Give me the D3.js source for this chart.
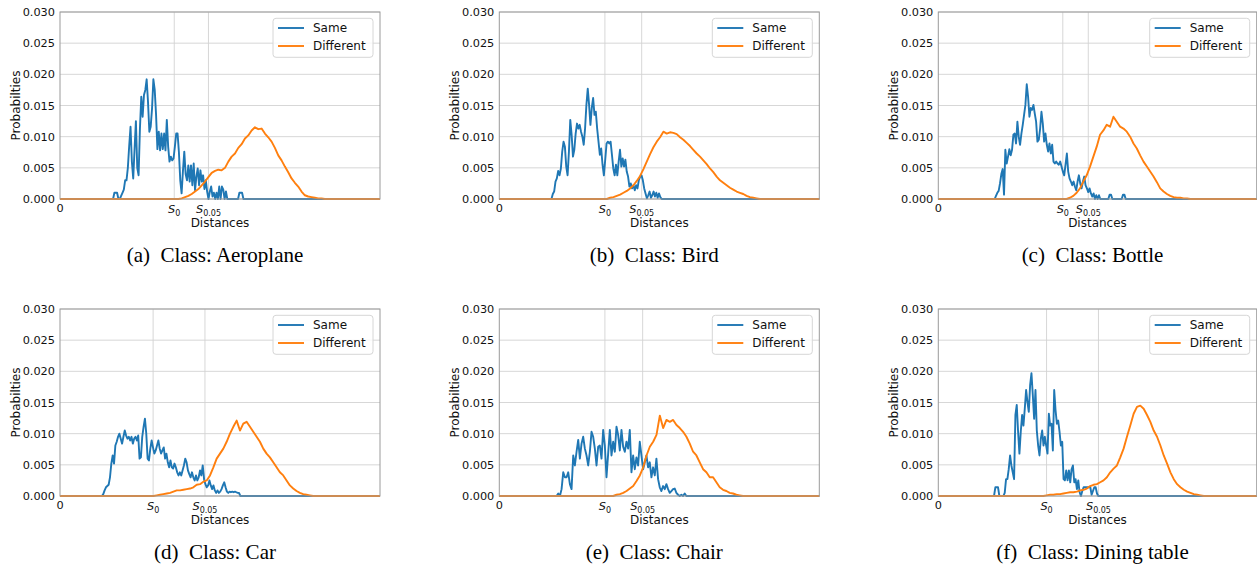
<!DOCTYPE html>
<html>
<head>
<meta charset="utf-8">
<script src="https://d3js.org/d3.v7.min.js"></script>
<style>
  body { margin: 0; background: #fff; }
  text { font-family: "DejaVu Sans", sans-serif; fill: #111; }
  .caption { font-family: "Liberation Serif", "Times New Roman", serif; fill: #000; }
</style>
</head>
<body>
<svg id="chart" width="1257" height="568"></svg>
<script>
// distances are normalised to [0, 1]; every curve is a histogram
const captions = ["(a)  Class: Aeroplane", "(b)  Class: Bird", "(c)  Class: Bottle",
                  "(d)  Class: Car", "(e)  Class: Chair", "(f)  Class: Dining table"];
const yTicks = [0, 0.005, 0.010, 0.015, 0.020, 0.025, 0.030];
const s0 = [0.357, 0.330, 0.391, 0.291, 0.330, 0.340];
const s005 = [0.464, 0.445, 0.471, 0.453, 0.448, 0.503];

// first bin and bin width of each series
const sameStart = [0.170, 0.163, 0.177, 0.131, 0.179, 0.175];
const sameStep = [0.0042, 0.0042, 0.0042, 0.0042, 0.0052, 0.0042];
const diffStart = [0.370, 0.336, 0.403, 0.292, 0.356, 0.330];
const diffStep = [0.0104, 0.0104, 0.0105, 0.0104, 0.0104, 0.0105];

const sameA = [0.001, 0.001, 0.001, 0, 0, 0.0005, 0.001, 0.0015, 0.003, 0.003, 0.005, 0.0085, 0.0116, 0.006, 0.0033, 0.008,
  0.0125, 0.005, 0.0038, 0.0113, 0.0164, 0.0132, 0.0167, 0.0175, 0.0192, 0.0156, 0.0108, 0.0116, 0.0145, 0.0192, 0.0175,
  0.0135, 0.008, 0.0108, 0.0078, 0.0105, 0.008, 0.0105, 0.0078, 0.0127, 0.0084, 0.006, 0.0068, 0.0062, 0.0065, 0.0084,
  0.0105, 0.0105, 0.0075, 0.003, 0.0009, 0.0045, 0.0076, 0.004, 0.003, 0.0054, 0.0028, 0.0054, 0.0022, 0.0057, 0.0014,
  0.0036, 0.0049, 0.0022, 0.0046, 0.0028, 0.0038, 0.0016, 0.003, 0.0012, 0, 0.0012, 0.002, 0.0004, 0.001, 0, 0.001, 0,
  0.002, 0, 0.002, 0.0015, 0, 0.0012, 0, 0, 0, 0, 0, 0, 0, 0, 0, 0.001, 0.001, 0.001, 0];
const diffA = [0, 0.0001, 0.0003, 0.0005, 0.0008, 0.0012, 0.0016, 0.0022, 0.0028, 0.0035, 0.0042, 0.0045, 0.0047, 0.0046,
  0.005, 0.006, 0.0068, 0.0073, 0.0082, 0.0088, 0.0097, 0.0102, 0.011, 0.0115, 0.0112, 0.0113, 0.0105, 0.0099, 0.0092,
  0.0082, 0.007, 0.0062, 0.0052, 0.0043, 0.0033, 0.0026, 0.002, 0.0012, 0.0006, 0.0004, 0.0003, 0.0002, 0.0001, 0.0001, 0];

const sameB = [0, 0.0008, 0.0012, 0.0028, 0.0033, 0.0045, 0.0038, 0.0049, 0.0076, 0.0092, 0.0084, 0.0052, 0.0038, 0.0076,
  0.0127, 0.0103, 0.0068, 0.0079, 0.0105, 0.0121, 0.0113, 0.0119, 0.0108, 0.01, 0.0087, 0.0113, 0.0151, 0.0177, 0.0151,
  0.0119, 0.0146, 0.0162, 0.0135, 0.014, 0.0113, 0.0092, 0.0071, 0.0081, 0.0055, 0.0038, 0.0063, 0.0089, 0.0092, 0.0089,
  0.0092, 0.0071, 0.0049, 0.0038, 0.0055, 0.0038, 0.006, 0.0079, 0.0052, 0.0065, 0.0052, 0.0063, 0.0044, 0.0036, 0.002,
  0.0025, 0.0017, 0.0022, 0.0014, 0.0022, 0.0017, 0.003, 0.0036, 0.0038, 0.003, 0.0017, 0.0009, 0.0001, 0.0006, 0.0012,
  0.0002, 0.0006, 0.0012, 0.0004, 0.001, 0.0002, 0.0009, 0.0003, 0];
const diffB = [0, 0.0002, 0.0003, 0.0005, 0.0007, 0.001, 0.0013, 0.0017, 0.0022, 0.0029, 0.0037, 0.0048, 0.006, 0.0072,
  0.0083, 0.0092, 0.0099, 0.0108, 0.0105, 0.0107, 0.0106, 0.0104, 0.0099, 0.0095, 0.009, 0.0085, 0.0079, 0.0073, 0.0068,
  0.0062, 0.0056, 0.0049, 0.0043, 0.0036, 0.003, 0.0026, 0.0022, 0.0018, 0.0015, 0.0012, 0.001, 0.0008, 0.0005, 0.0003,
  0.0002, 0.0001, 0];

const sameC = [0, 0.0005, 0.001, 0.0013, 0.0025, 0.004, 0.0048, 0.0007, 0.0079, 0.0057, 0.0068, 0.008, 0.007, 0.0079,
  0.0103, 0.0105, 0.0089, 0.0124, 0.01, 0.0087, 0.0105, 0.0119, 0.0135, 0.0151, 0.0184, 0.0164, 0.0132, 0.0146, 0.0143,
  0.0151, 0.0137, 0.0124, 0.0092, 0.0095, 0.0113, 0.014, 0.0121, 0.0092, 0.0105, 0.0087, 0.0076, 0.0089, 0.0073, 0.0087,
  0.006, 0.0057, 0.006, 0.0057, 0.0055, 0.006, 0.0052, 0.0044, 0.0038, 0.0055, 0.0073, 0.0044, 0.0033, 0.0028, 0.0022,
  0.0028, 0.002, 0.0014, 0.0028, 0.0038, 0.0025, 0.0017, 0.0028, 0.0036, 0.0022, 0.0017, 0.0011, 0.0017, 0.0009, 0.0004,
  0.0009, 0, 0.0006, 0, 0.0006, 0, 0, 0, 0, 0, 0, 0, 0.0007, 0.0007, 0, 0, 0, 0, 0, 0, 0, 0, 0.0007, 0.0007, 0];
const diffC = [0, 0.0002, 0.0005, 0.001, 0.0017, 0.0028, 0.0038, 0.0052, 0.0068, 0.0084, 0.0103, 0.011, 0.0119, 0.0116,
  0.0132, 0.0124, 0.0116, 0.0113, 0.0108, 0.01, 0.0089, 0.0081, 0.007, 0.006, 0.0052, 0.0044, 0.0036, 0.0027, 0.0017,
  0.0012, 0.0008, 0.0005, 0.0003, 0.0002, 0.0002, 0.0001, 0.0001, 0];

const sameD = [0, 0.0003, 0.0009, 0.0014, 0.0016, 0.0018, 0.003, 0.0052, 0.0065, 0.0052, 0.0081, 0.0087, 0.0095, 0.01,
  0.0092, 0.0084, 0.0095, 0.0105, 0.0097, 0.0092, 0.0095, 0.0089, 0.0095, 0.0084, 0.0092, 0.0095, 0.0089, 0.0097, 0.006,
  0.0062, 0.0095, 0.0111, 0.0124, 0.01, 0.006, 0.0057, 0.0076, 0.0089, 0.0078, 0.0068, 0.0073, 0.0081, 0.0089, 0.0076,
  0.0068, 0.0073, 0.0078, 0.006, 0.0068, 0.0054, 0.0046, 0.0057, 0.0046, 0.0044, 0.0052, 0.0046, 0.0038, 0.0033, 0.0038,
  0.0033, 0.0041, 0.0049, 0.006, 0.0054, 0.0041, 0.0035, 0.003, 0.0038, 0.003, 0.0025, 0.0033, 0.0025, 0.003, 0.0041,
  0.0033, 0.0049, 0.0027, 0.0019, 0.0014, 0.0017, 0.0025, 0.0017, 0.0011, 0.0017, 0.0009, 0.0005, 0.0009, 0.0005, 0.0007,
  0.0011, 0.0017, 0.0022, 0.0014, 0.0007, 0.0005, 0.0007, 0.0006, 0.0007, 0.0006, 0.0007, 0.0006, 0.0005, 0.0005, 0];
const diffD = [0, 0.0001, 0.0002, 0.0003, 0.0004, 0.0005, 0.0007, 0.0009, 0.0009, 0.001, 0.0011, 0.0012, 0.0014, 0.0018,
  0.0019, 0.0023, 0.0025, 0.0033, 0.0046, 0.006, 0.0068, 0.0076, 0.0087, 0.01, 0.0111, 0.0121, 0.0105, 0.0116, 0.0119,
  0.0111, 0.0103, 0.0095, 0.0087, 0.0076, 0.0068, 0.0062, 0.0054, 0.0046, 0.0038, 0.0033, 0.0025, 0.0017, 0.0012, 0.0008,
  0.0005, 0.0003, 0.0002, 0.0001, 0];

const sameE = [0, 0.0004, 0, 0.0011, 0.0038, 0.003, 0.003, 0.0038, 0.0019, 0.0011, 0.0065, 0.0049, 0.0071, 0.009, 0.006,
  0.0084, 0.0095, 0.0076, 0.0065, 0.0049, 0.0071, 0.0103, 0.0095, 0.0076, 0.0049, 0.0079, 0.0081, 0.006, 0.0106, 0.0081,
  0.003, 0.0068, 0.0106, 0.0065, 0.0087, 0.0071, 0.0111, 0.0098, 0.0073, 0.0106, 0.0079, 0.0071, 0.0087, 0.0076, 0.0106,
  0.0038, 0.0065, 0.0043, 0.0062, 0.0049, 0.0087, 0.0065, 0.0043, 0.0054, 0.0065, 0.0046, 0.0054, 0.003, 0.0046, 0.0033,
  0.006, 0.0027, 0.0014, 0.0008, 0.0016, 0.0011, 0.0019, 0.0011, 0.0005, 0.0008, 0.0011, 0.0012, 0.0005, 0.0002, 0,
  0.0002, 0, 0.0004, 0];
const diffE = [0, 0.0002, 0.0003, 0.0005, 0.0008, 0.0012, 0.0016, 0.0024, 0.0033, 0.0046, 0.0065, 0.0079, 0.0087,
  0.0098, 0.0129, 0.0109, 0.0122, 0.0119, 0.0122, 0.0114, 0.0109, 0.0103, 0.0095, 0.0084, 0.0071, 0.0065, 0.0054, 0.0043,
  0.0038, 0.003, 0.003, 0.0022, 0.0014, 0.001, 0.0008, 0.0005, 0.0004, 0.0002, 0.0001, 0];

const sameF = [0, 0.0014, 0.0014, 0.0014, 0, 0, 0, 0, 0.0005, 0.0027, 0.0027, 0.0043, 0.0065, 0.0049, 0.0038, 0.0027,
  0.013, 0.0146, 0.0103, 0.0068, 0.0103, 0.013, 0.0113, 0.014, 0.017, 0.0151, 0.0135, 0.0178, 0.0197, 0.0162, 0.0124,
  0.017, 0.0105, 0.0081, 0.0065, 0.0092, 0.0105, 0.0081, 0.0095, 0.0081, 0.0068, 0.0132, 0.0113, 0.0116, 0.0073, 0.017,
  0.0138, 0.0116, 0.0121, 0.0103, 0.0081, 0.0087, 0.0027, 0.0025, 0.0041, 0.0025, 0.0041, 0.0022, 0.0043, 0.0049, 0.0022,
  0.0027, 0.0011, 0.0025, 0.0006, 0, 0.0008, 0.0014, 0.0014, 0.0014, 0.0014, 0.0014, 0.0014, 0.0002, 0.0008, 0.0014,
  0.0014, 0.0004, 0];
const diffF = [0, 0.0001, 0.0002, 0.0002, 0.0003, 0.0003, 0.0004, 0.0005, 0.0006, 0.0006, 0.0007, 0.0009, 0.001, 0.0012,
  0.0016, 0.0018, 0.0019, 0.0022, 0.0025, 0.003, 0.0038, 0.0044, 0.0049, 0.0062, 0.0076, 0.0095, 0.0113, 0.0132, 0.0143,
  0.0145, 0.014, 0.013, 0.0119, 0.0105, 0.0095, 0.0081, 0.0065, 0.0052, 0.0038, 0.0027, 0.0019, 0.0014, 0.001, 0.0007,
  0.0005, 0.0003, 0.0002, 0.0001, 0];

const sameValues = [sameA, sameB, sameC, sameD, sameE, sameF];
const diffValues = [diffA, diffB, diffC, diffD, diffE, diffF];

const colors = { same: "#1f77b4", diff: "#ff7f0e" };
const lefts = [60, 499.3, 938.3];
const widths = [320, 320, 318.4];
const tops = [12, 309];
const plotH = 187;
const lineW = 1.9;

const svg = d3.select("#chart");

// turn a histogram into points spanning the whole axis at zero outside its bins
const toPoints = (values, start, step) => {
  const pts = [[0, 0], [start - step, 0]];
  values.forEach((v, i) => pts.push([start + i * step, v]));
  pts.push([start + values.length * step, 0], [1, 0]);
  return pts;
};

const drawPanel = (i) => {
  const col = i % 3, row = Math.floor(i / 3);
  const left = lefts[col], top = tops[row], w = widths[col];
  const x = d3.scaleLinear().domain([0, 1]).range([left, left + w]);
  const y = d3.scaleLinear().domain([0, 0.03]).range([top + plotH, top]);
  const g = svg.append("g");

  // grid
  g.selectAll(".hgrid").data(yTicks).enter().append("line")
    .attr("x1", left).attr("x2", left + w)
    .attr("y1", (d) => y(d)).attr("y2", (d) => y(d))
    .attr("stroke", "#d2d2d2").attr("stroke-width", 0.9);
  g.selectAll(".vgrid").data([s0[i], s005[i]]).enter().append("line")
    .attr("x1", (d) => x(d)).attr("x2", (d) => x(d))
    .attr("y1", top).attr("y2", top + plotH)
    .attr("stroke", "#d2d2d2").attr("stroke-width", 0.9);

  // y axis
  const yAxis = d3.axisLeft(y).tickValues(yTicks).tickFormat(d3.format(".3f")).tickSize(0).tickPadding(5);
  g.append("g").attr("transform", `translate(${left},0)`).call(yAxis)
    .call((a) => a.select(".domain").remove())
    .selectAll("text").attr("font-size", 11.3).attr("font-family", "DejaVu Sans").attr("fill", "#111");

  // x ticks: 0, S0, S0.05
  const xl = g.append("g").attr("font-size", 11.3);
  xl.append("text").attr("x", x(0)).attr("y", top + plotH + 13).attr("text-anchor", "middle").text("0");
  [[s0[i], "0"], [s005[i], "0.05"]].forEach(([v, sub]) => {
    const t = xl.append("text").attr("x", x(v)).attr("y", top + plotH + 14).attr("text-anchor", "middle");
    t.append("tspan").attr("font-style", "italic").text("S");
    t.append("tspan").attr("font-size", 8).attr("dy", 3).text(sub);
  });

  g.append("text").attr("x", left + w / 2).attr("y", top + plotH + 27.5)
    .attr("text-anchor", "middle").attr("font-size", 12).text("Distances");
  g.append("text").attr("transform", `translate(${left - 40.5},${top + plotH / 2}) rotate(-90)`)
    .attr("text-anchor", "middle").attr("font-size", 12).text("Probabilties");

  // curves, "Different" drawn last
  const line = d3.line().x((d) => x(d[0])).y((d) => y(d[1]));
  g.append("path").datum(toPoints(sameValues[i], sameStart[i], sameStep[i]))
    .attr("d", line).attr("fill", "none").attr("stroke", colors.same).attr("stroke-width", lineW).attr("stroke-linejoin", "round");
  g.append("path").datum(toPoints(diffValues[i], diffStart[i], diffStep[i]))
    .attr("d", line).attr("fill", "none").attr("stroke", colors.diff).attr("stroke-width", lineW).attr("stroke-linejoin", "round");

  // frame
  g.append("rect").attr("x", left).attr("y", top).attr("width", w).attr("height", plotH)
    .attr("fill", "none").attr("stroke", "#9a9a9a").attr("stroke-width", 1);

  // legend
  const right = left + w;
  const lg = g.append("g");
  lg.append("rect").attr("x", right - 107).attr("y", top + 6.3).attr("width", 100).attr("height", 39).attr("rx", 3)
    .attr("fill", "#fff").attr("fill-opacity", 0.8).attr("stroke", "#d6d6d6");
  [["Same", colors.same], ["Different", colors.diff]].forEach(([name, c], k) => {
    const yy = top + 16 + k * 18;
    lg.append("line").attr("x1", right - 102).attr("x2", right - 76).attr("y1", yy).attr("y2", yy)
      .attr("stroke", c).attr("stroke-width", lineW);
    lg.append("text").attr("x", right - 67).attr("y", yy + 4.3).attr("font-size", 12).text(name);
  });

  // caption
  svg.append("text").attr("class", "caption").attr("x", left + w / 2 - 5).attr("y", top + 250)
    .attr("text-anchor", "middle").attr("font-size", 21).attr("xml:space", "preserve").text(captions[i]);
};

d3.range(6).forEach(drawPanel);
</script>
</body>
</html>
